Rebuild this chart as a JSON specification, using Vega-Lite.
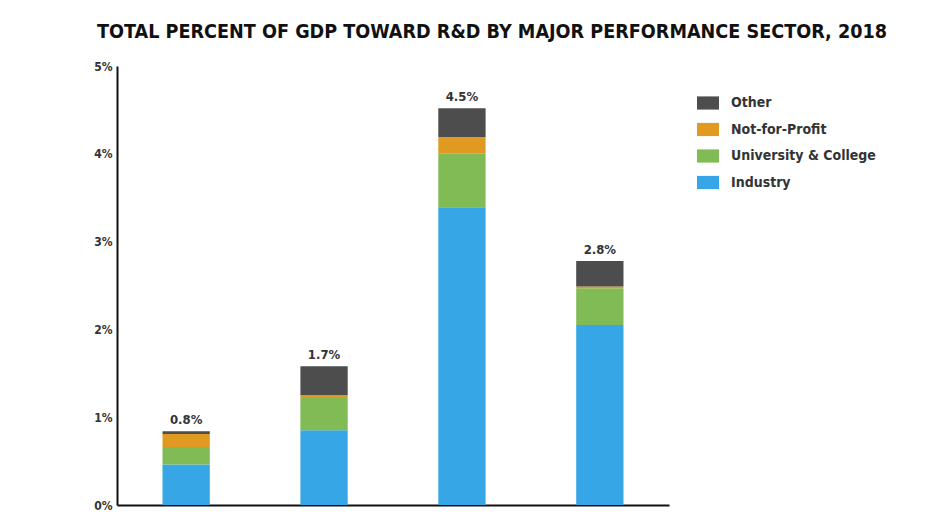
{
  "$schema": "https://vega.github.io/schema/vega-lite/v6.json",
  "autosize": "none",
  "width": 552,
  "height": 439,
  "padding": {"left": 117, "top": 66, "right": 272, "bottom": 7},
  "background": "white",
  "config": {
    "view": {"stroke": null},
    "font": "DejaVu Sans Condensed, sans-serif"
  },
  "title": {
    "text": "TOTAL PERCENT OF GDP TOWARD R&D BY MAJOR PERFORMANCE SECTOR, 2018",
    "font": "DejaVu Sans Condensed, sans-serif",
    "fontSize": 19.6,
    "fontWeight": "bold",
    "color": "#111111",
    "anchor": "middle",
    "dx": 99,
    "offset": 17
  },
  "data": {
    "values": [
      {"country": "A", "sector": "Industry", "rank": 1, "value": 0.46, "label": "0.8%"},
      {"country": "A", "sector": "University & College", "rank": 2, "value": 0.2, "label": "0.8%"},
      {"country": "A", "sector": "Not-for-Profit", "rank": 3, "value": 0.15, "label": "0.8%"},
      {"country": "A", "sector": "Other", "rank": 4, "value": 0.03, "label": "0.8%"},
      {"country": "B", "sector": "Industry", "rank": 1, "value": 0.85, "label": "1.7%"},
      {"country": "B", "sector": "University & College", "rank": 2, "value": 0.37, "label": "1.7%"},
      {"country": "B", "sector": "Not-for-Profit", "rank": 3, "value": 0.03, "label": "1.7%"},
      {"country": "B", "sector": "Other", "rank": 4, "value": 0.33, "label": "1.7%"},
      {"country": "C", "sector": "Industry", "rank": 1, "value": 3.39, "label": "4.5%"},
      {"country": "C", "sector": "University & College", "rank": 2, "value": 0.61, "label": "4.5%"},
      {"country": "C", "sector": "Not-for-Profit", "rank": 3, "value": 0.19, "label": "4.5%"},
      {"country": "C", "sector": "Other", "rank": 4, "value": 0.33, "label": "4.5%"},
      {"country": "D", "sector": "Industry", "rank": 1, "value": 2.05, "label": "2.8%"},
      {"country": "D", "sector": "University & College", "rank": 2, "value": 0.42, "label": "2.8%"},
      {"country": "D", "sector": "Not-for-Profit", "rank": 3, "value": 0.02, "label": "2.8%"},
      {"country": "D", "sector": "Other", "rank": 4, "value": 0.29, "label": "2.8%"}
    ]
  },
  "encoding": {
    "x": {
      "field": "country",
      "type": "nominal",
      "sort": null,
      "scale": {"paddingInner": 0.657, "paddingOuter": 0.33},
      "axis": {
        "title": null,
        "labels": false,
        "ticks": false,
        "domainColor": "#111111",
        "domainWidth": 2
      }
    }
  },
  "layer": [
    {
      "mark": {"type": "bar"},
      "encoding": {
        "y": {
          "field": "value",
          "type": "quantitative",
          "aggregate": "sum",
          "scale": {"domain": [0, 5], "nice": false},
          "axis": {
            "title": null,
            "values": [0, 1, 2, 3, 4, 5],
            "labelExpr": "datum.value + '%'",
            "ticks": false,
            "grid": false,
            "labelPadding": 5,
            "labelFontSize": 12,
            "labelFontWeight": "bold",
            "labelColor": "#333333",
            "domainColor": "#111111",
            "domainWidth": 2
          }
        },
        "color": {
          "field": "sector",
          "type": "nominal",
          "scale": {
            "domain": ["Other", "Not-for-Profit", "University & College", "Industry"],
            "range": ["#4d4d4d", "#e09a22", "#80bb56", "#36a6e6"]
          },
          "legend": {
            "title": null,
            "orient": "none",
            "legendX": 580,
            "legendY": 26,
            "symbolType": "M-1,-0.6H1V0.6H-1Z",
            "symbolSize": 484,
            "symbolStrokeWidth": 0,
            "labelFontSize": 14,
            "labelFontWeight": "bold",
            "labelColor": "#333333",
            "labelOffset": 12,
            "rowPadding": 8.5
          }
        },
        "order": {"field": "rank", "type": "quantitative", "sort": "ascending"}
      }
    },
    {
      "mark": {"type": "text", "baseline": "bottom", "dy": -4, "fontSize": 13, "fontWeight": "bold", "color": "#333333"},
      "encoding": {
        "y": {"field": "value", "type": "quantitative", "aggregate": "sum"},
        "text": {"field": "label", "type": "nominal"}
      }
    }
  ]
}
